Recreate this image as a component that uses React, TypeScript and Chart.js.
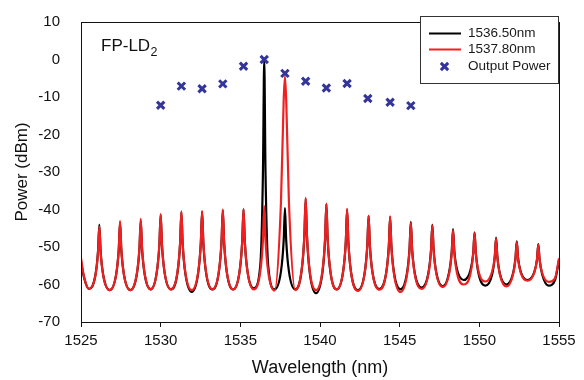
import { useEffect, useRef } from "react";
import { Chart, registerables } from "chart.js";

Chart.register(...registerables);

// Shared wavelength grid (nm) for the two measured spectra
const wavelengthGrid = [
  1525.0, 1525.2, 1525.5,
  1525.9, 1526.07, 1526.15, 1526.23, 1526.4, 1526.8,
  1527.2, 1527.37, 1527.45, 1527.53, 1527.7, 1528.1,
  1528.5, 1528.67, 1528.75, 1528.83, 1529.0, 1529.38,
  1529.75, 1529.92, 1530.0, 1530.08, 1530.25, 1530.65,
  1531.05, 1531.22, 1531.3, 1531.38, 1531.55, 1531.95,
  1532.35, 1532.52, 1532.6, 1532.68, 1532.85, 1533.25,
  1533.65, 1533.82, 1533.9, 1533.98, 1534.15, 1534.55,
  1534.95, 1535.12, 1535.2, 1535.28, 1535.45, 1535.85,
  1536.25, 1536.42, 1536.5, 1536.58, 1536.75, 1537.15,
  1537.55, 1537.72, 1537.8, 1537.88, 1538.05, 1538.45,
  1538.85, 1539.02, 1539.1, 1539.18, 1539.35, 1539.75,
  1540.15, 1540.32, 1540.4, 1540.48, 1540.65, 1541.05,
  1541.45, 1541.62, 1541.7, 1541.78, 1541.95, 1542.38,
  1542.8, 1542.97, 1543.05, 1543.13, 1543.3, 1543.72,
  1544.15, 1544.32, 1544.4, 1544.48, 1544.65, 1545.05,
  1545.45, 1545.62, 1545.7, 1545.78, 1545.95, 1546.38,
  1546.8, 1546.97, 1547.05, 1547.13, 1547.3, 1547.7,
  1548.1, 1548.27, 1548.35, 1548.43, 1548.6, 1549.02,
  1549.45, 1549.62, 1549.7, 1549.78, 1549.95, 1550.38,
  1550.8, 1550.97, 1551.05, 1551.13, 1551.3, 1551.7,
  1552.1, 1552.27, 1552.35, 1552.43, 1552.6, 1553.02,
  1553.45, 1553.62, 1553.7, 1553.78, 1553.95, 1554.35,
  1554.75, 1555.0,
];

// Spectrum injected at 1536.50 nm (dBm)
const blackPower = [
  -54, -58.3, -61.2,
  -57.6, -51, -44, -51, -57.6, -61.5,
  -57.5, -50.7, -43.5, -50.7, -57.5, -61.5,
  -57.4, -50.4, -43, -50.4, -57.4, -61.3,
  -56.9, -49.4, -41.5, -49.4, -56.9, -61.3,
  -57, -49.1, -40.8, -49.1, -57.1, -62,
  -57.1, -49, -40.6, -49, -56.9, -61.3,
  -56.7, -48.6, -40.2, -48.6, -56.7, -61.3,
  -56.6, -48.5, -40, -48.5, -56.5, -61,
  -55, -30, 0, -30, -55, -61.3,
  -56.5, -48.3, -39.6, -48.3, -56.5, -61.3,
  -56.2, -47, -37.2, -47, -56.6, -62.3,
  -56.9, -47.9, -38.6, -47.9, -56.5, -61.3,
  -56.6, -48.6, -40, -48.6, -56.8, -61.5,
  -57, -49.5, -41.7, -49.5, -56.9, -61.2,
  -57, -49.7, -42, -49.7, -57, -61.3,
  -57.2, -50.4, -43.3, -50.4, -57, -60.8,
  -57, -50.6, -44, -50.6, -56.8, -60.5,
  -56.8, -51, -45.2, -51, -56, -58.8,
  -56.1, -51.5, -46.1, -51.5, -57.1, -60.3,
  -57.4, -52.5, -47.5, -52.5, -57.3, -60,
  -57.3, -52.9, -48.5, -52.9, -56.6, -58.8,
  -56.7, -53.3, -49.2, -53.3, -57.4, -60.3,
  -58.8, -53.5,
];

// Spectrum injected at 1537.80 nm (dBm)
const redPower = [
  -53, -58.1, -61.2,
  -57.7, -51.3, -44.5, -51.3, -57.7, -61.5,
  -57.5, -50.5, -43.1, -50.5, -57.5, -61.5,
  -57.2, -50.1, -42.5, -50.1, -57.2, -61.3,
  -56.9, -49.2, -41.2, -49.2, -56.9, -61.3,
  -56.8, -48.9, -40.5, -48.9, -56.8, -61.5,
  -56.8, -48.8, -40.4, -48.8, -56.7, -61.3,
  -56.6, -48.5, -40, -48.5, -56.6, -61.3,
  -56.6, -48.4, -39.8, -48.4, -56.6, -61.3,
  -56.6, -48.1, -39.1, -48.1, -56.6, -61.6,
  -38, -11, -4.5, -11, -38, -61.5,
  -56, -46.7, -36.9, -46.7, -56.2, -61.5,
  -56.4, -47.6, -38.4, -47.6, -56.4, -61.3,
  -56.6, -48.5, -39.8, -48.5, -56.8, -61.7,
  -57.1, -49.6, -41.7, -49.6, -57, -61.4,
  -57.1, -49.8, -41.8, -49.8, -57.4, -62,
  -57.7, -50.7, -43.5, -50.7, -57.3, -61.2,
  -57.3, -50.9, -44.2, -50.9, -57.1, -60.7,
  -57.2, -51.5, -45.5, -51.5, -57, -60,
  -57, -51.6, -46.3, -51.6, -56.5, -59.2,
  -56.6, -52.6, -47.7, -52.6, -57.5, -60.5,
  -57.6, -53.1, -48.7, -53.1, -56.9, -59,
  -56.8, -53.3, -49.4, -53.3, -57, -59.3,
  -58.3, -53,
];

// Output power at each injection wavelength
const outputWavelength = [
  1530.0, 1531.3, 1532.6, 1533.9, 1535.2, 1536.5, 1537.8,
  1539.1, 1540.4, 1541.7, 1543.0, 1544.4, 1545.7,
];
const outputPower = [
  -12.2, -7.1, -7.8, -6.5, -1.8, 0, -3.7,
  -5.8, -7.6, -6.4, -10.4, -11.4, -12.3,
];

const seriesLabels = ["1536.50nm", "1537.80nm", "Output Power"];
const xRange = [1525, 1555];
const yRange = [-70, 10];

const FONT = 'Arial, "Liberation Sans", Helvetica, sans-serif';
const INK = "#111";
const RED = "rgb(240,32,32)";
const NAVY = "#34359a";

function drawCross(ctx: CanvasRenderingContext2D, cx: number, cy: number, r: number, color: string, w: number) {
  const d = Math.cos(Math.PI / 4) * r;
  ctx.save();
  ctx.strokeStyle = color;
  ctx.lineWidth = w;
  ctx.beginPath();
  ctx.moveTo(cx - d, cy - d);
  ctx.lineTo(cx + d, cy + d);
  ctx.moveTo(cx + d, cy - d);
  ctx.lineTo(cx - d, cy + d);
  ctx.stroke();
  ctx.restore();
}

export default function App() {
  const ref = useRef<HTMLCanvasElement>(null);

  useEffect(() => {
    if (!ref.current) return;

    const overlay = {
      id: "overlay",
      afterDraw(chart: any) {
        const { ctx, chartArea: a } = chart;
        ctx.save();
        // frame
        ctx.strokeStyle = INK;
        ctx.lineWidth = 1;
        ctx.strokeRect(Math.round(a.left) + 0.5, Math.round(a.top) + 0.5, Math.round(a.right - a.left), Math.round(a.bottom - a.top));

        // FP-LD2 label
        ctx.fillStyle = INK;
        ctx.textAlign = "left";
        ctx.textBaseline = "alphabetic";
        ctx.font = `17px ${FONT}`;
        ctx.fillText("FP-LD", 101, 51);
        const w = ctx.measureText("FP-LD").width;
        ctx.font = `12.5px ${FONT}`;
        ctx.fillText("2", 101 + w + 0.5, 55.5);

        // legend box
        const lx = 420.5, ly = 16.5, lw = 138, lh = 67;
        ctx.fillStyle = "#fff";
        ctx.fillRect(lx, ly, lw, lh);
        ctx.strokeStyle = "#333";
        ctx.lineWidth = 1;
        ctx.strokeRect(lx, ly, lw, lh);

        const rows = [33.5, 49.5, 66.5];
        ctx.font = `13.5px ${FONT}`;
        ctx.textBaseline = "middle";
        chart.data.datasets.forEach((ds: any, i: number) => {
          const y = rows[i];
          if (ds.type === "scatter") {
            drawCross(ctx, 444.5, y, 5.2, ds.borderColor, 3);
          } else {
            ctx.strokeStyle = ds.borderColor;
            ctx.lineWidth = 2;
            ctx.beginPath();
            ctx.moveTo(429, y);
            ctx.lineTo(461, y);
            ctx.stroke();
          }
          ctx.fillStyle = "#1a1a1a";
          ctx.fillText(ds.label, 468, y);
        });
        ctx.restore();
      },
    };

    const chart = new Chart(ref.current, {
      type: "line",
      data: {
        datasets: [
          {
            type: "line",
            label: seriesLabels[0],
            data: wavelengthGrid.map((x, i) => ({ x, y: blackPower[i] })),
            borderColor: "#000",
            borderWidth: 2.2,
            pointRadius: 0,
            cubicInterpolationMode: "monotone",
            order: 3,
          },
          {
            type: "line",
            label: seriesLabels[1],
            data: wavelengthGrid.map((x, i) => ({ x, y: redPower[i] })),
            borderColor: RED,
            borderWidth: 2.2,
            pointRadius: 0,
            cubicInterpolationMode: "monotone",
            order: 2,
          },
          {
            type: "scatter",
            label: seriesLabels[2],
            data: outputWavelength.map((x, i) => ({ x, y: outputPower[i] })),
            borderColor: NAVY,
            backgroundColor: NAVY,
            pointStyle: "crossRot",
            pointRadius: 5.2,
            borderWidth: 3,
            order: 1,
          },
        ],
      } as any,
      options: {
        animation: false,
        responsive: false,
        devicePixelRatio: 1,
        layout: { padding: { left: 0, right: 25, top: 16, bottom: 0 } },
        plugins: { legend: { display: false }, tooltip: { enabled: false } },
        scales: {
          x: {
            type: "linear",
            min: xRange[0],
            max: xRange[1],
            ticks: {
              stepSize: 5,
              color: INK,
              padding: 5,
              font: { family: FONT, size: 15 },
              callback: (v: any) => String(v),
            },
            grid: { display: true, drawOnChartArea: false, drawTicks: true, tickLength: 5, color: INK },
            border: { display: true, color: INK, width: 1 },
            title: {
              display: true,
              text: "Wavelength (nm)",
              color: INK,
              font: { family: FONT, size: 18 },
              padding: { top: 0, bottom: 1 },
            },
            afterFit: (s: any) => {
              s.height = 58;
            },
          },
          y: {
            type: "linear",
            min: yRange[0],
            max: yRange[1],
            ticks: {
              stepSize: 10,
              color: INK,
              padding: 13,
              font: { family: FONT, size: 15 },
              callback: (v: any) => String(v),
            },
            grid: { display: false },
            border: { display: true, color: INK, width: 1 },
            title: {
              display: true,
              text: "Power (dBm)",
              color: INK,
              font: { family: FONT, size: 17 },
              padding: { top: 12, bottom: 0 },
            },
            afterFit: (s: any) => {
              s.width = 81;
            },
          },
        },
      } as any,
      plugins: [overlay],
    });

    return () => chart.destroy();
  }, []);

  return (
    <div style={{ position: "fixed", left: 0, top: 0, width: 584, height: 380, background: "#fff" }}>
      <canvas ref={ref} width={584} height={380} style={{ display: "block", width: 584, height: 380 }} />
    </div>
  );
}
